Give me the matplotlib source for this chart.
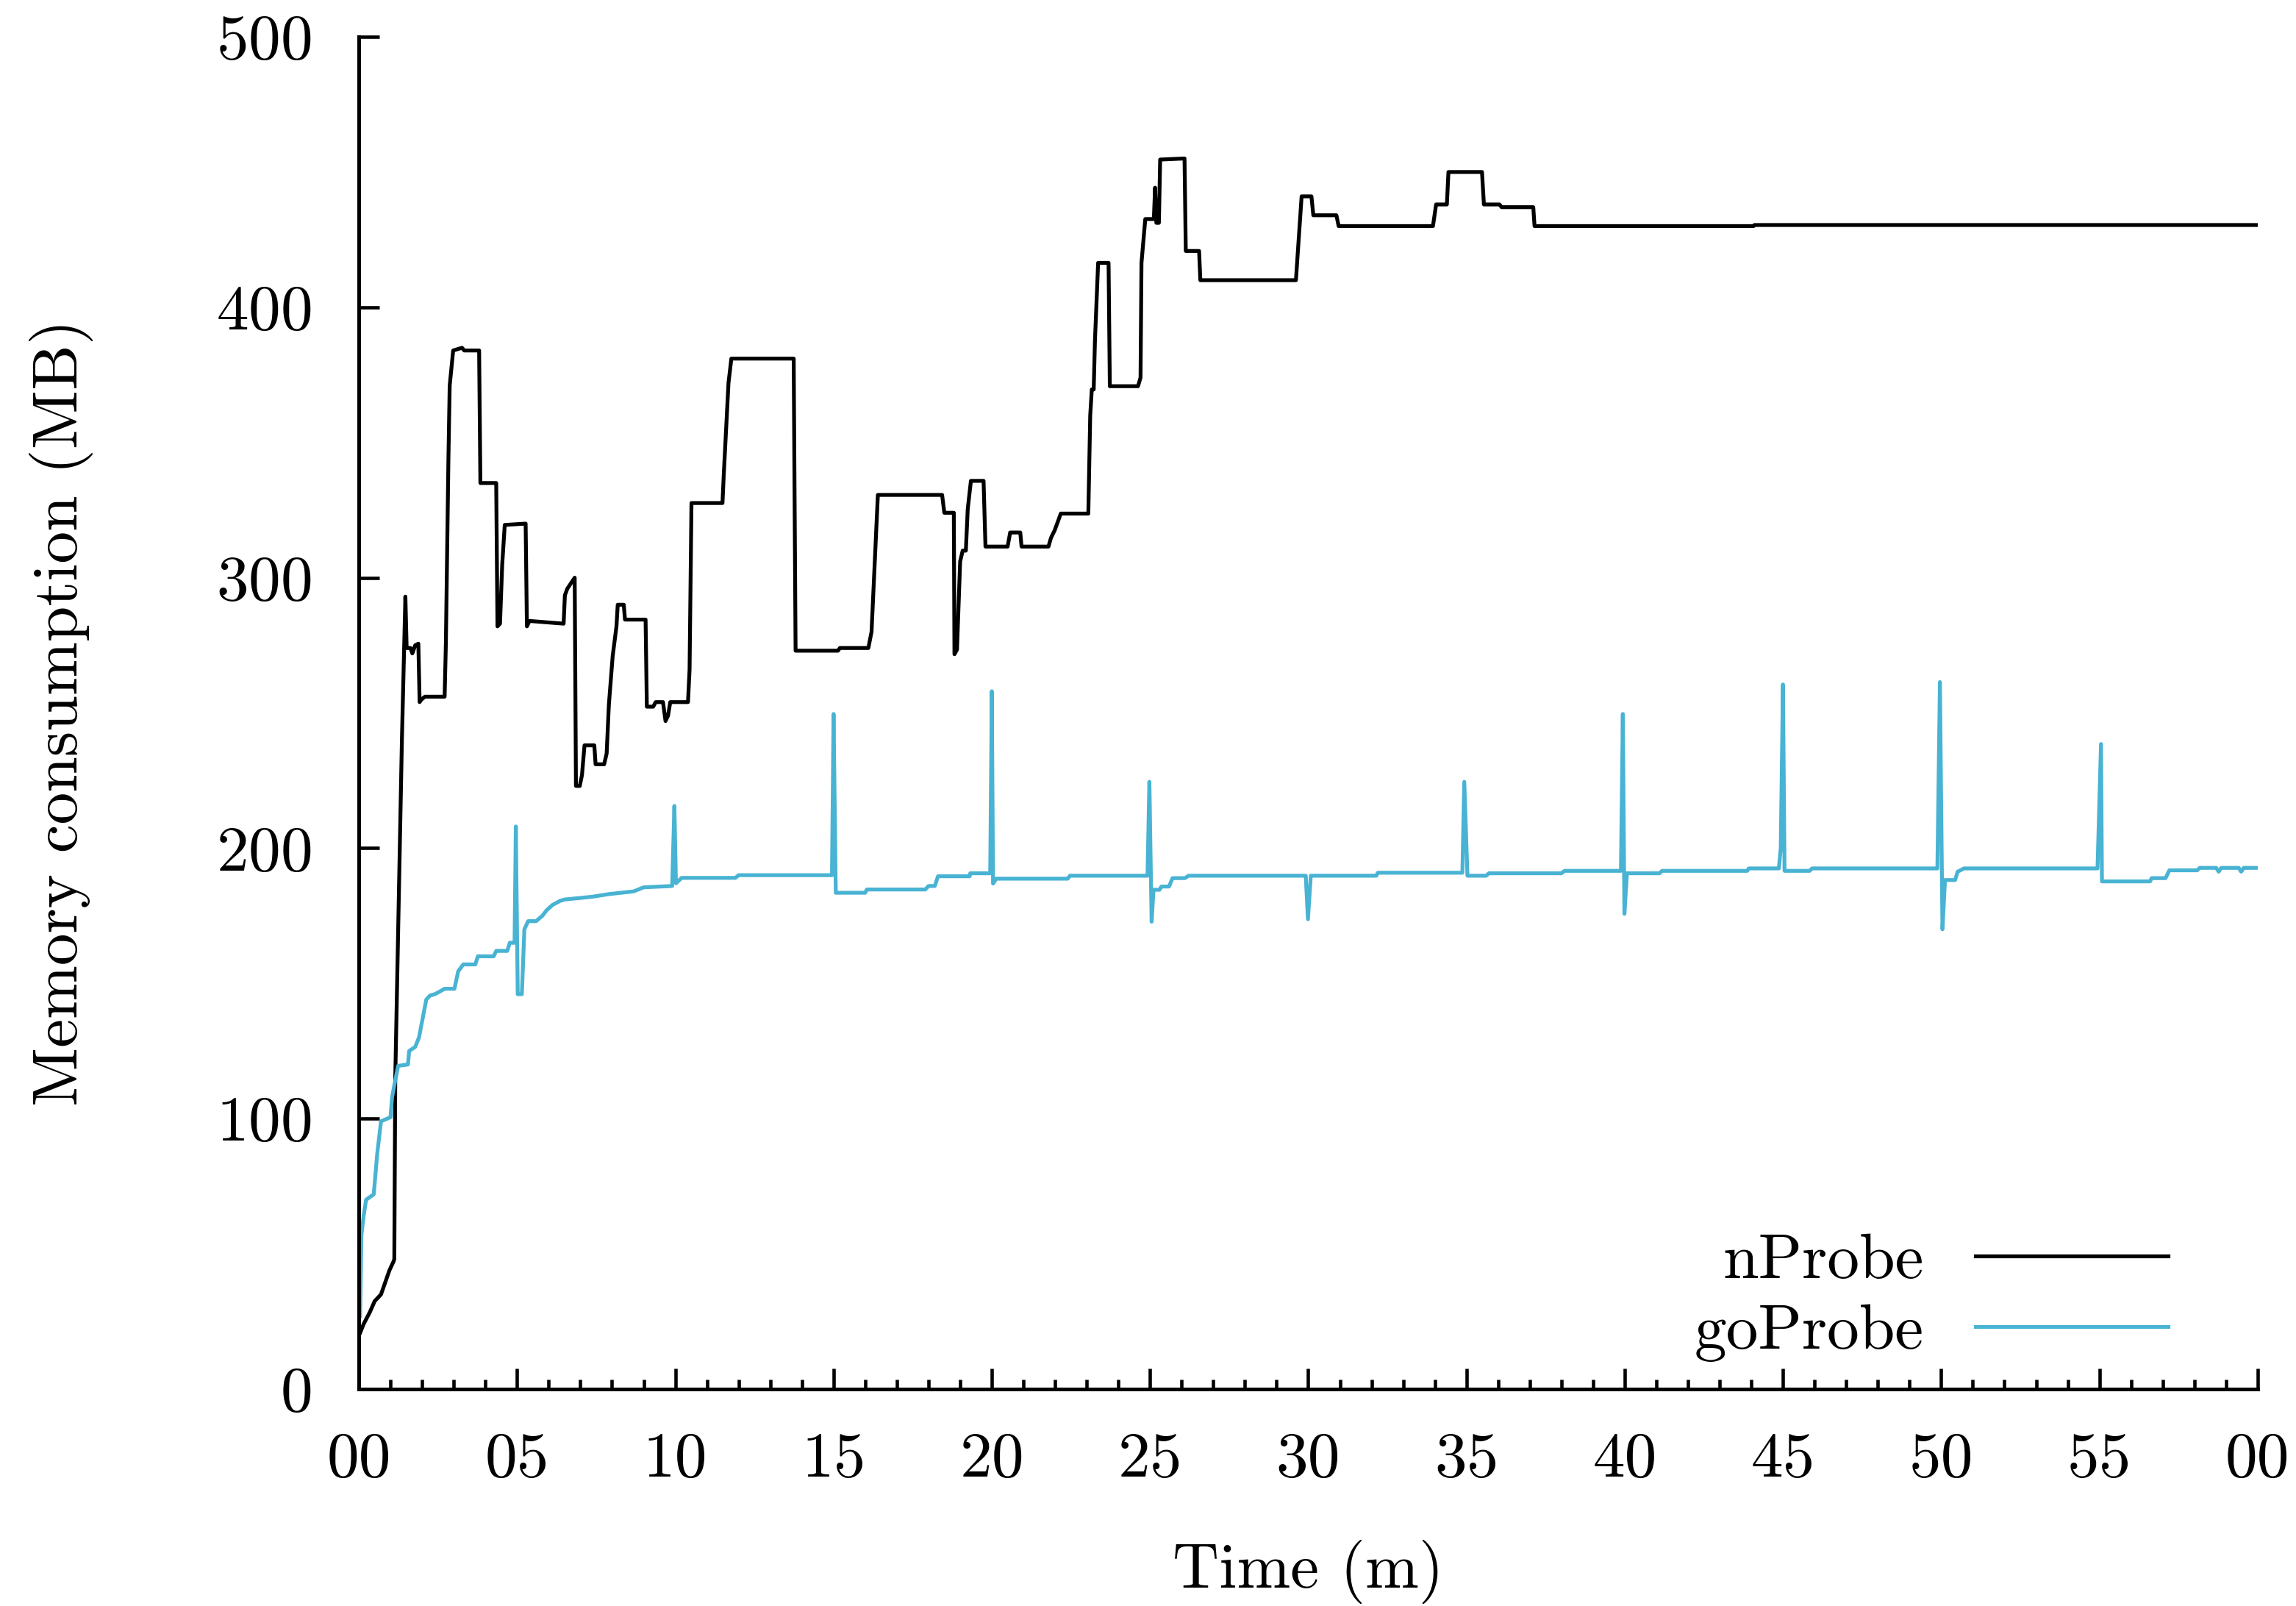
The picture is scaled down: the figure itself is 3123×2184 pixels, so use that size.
import numpy as np
import matplotlib
matplotlib.use("Agg")
import matplotlib.pyplot as plt
from matplotlib.ticker import MultipleLocator, FixedLocator, FixedFormatter

plt.rcParams['font.family'] = ['cmr10', 'DejaVu Serif']
plt.rcParams['mathtext.fontset'] = 'cm'
plt.rcParams['axes.formatter.use_mathtext'] = True

# nProbe memory (minutes, MB)
nprobe_t = [0.04, 0.15, 0.35, 0.5, 0.7, 0.85, 0.97, 1.09, 1.12, 1.15, 1.36, 1.47, 1.51, 1.63,
            1.69, 1.78, 1.88, 1.92, 1.98, 2.09, 2.71, 2.75, 2.83, 2.87, 2.98, 3.26, 3.33, 3.8,
            3.84, 4.34, 4.38, 4.46, 4.53, 4.61, 5.27, 5.31, 5.39, 6.47, 6.51, 6.59, 6.82, 6.86,
            6.98, 7.05, 7.13, 7.44, 7.48, 7.75, 7.83, 7.9, 8.02, 8.14, 8.18, 8.37, 8.41, 9.06,
            9.1, 9.3, 9.38, 9.61, 9.69, 9.77, 9.84, 10.4, 10.45, 10.51, 11.49, 11.53, 11.68,
            11.77, 13.74, 13.8, 15.14, 15.2, 16.1, 16.2, 16.4, 18.43, 18.5, 18.8, 18.82, 18.9,
            19.0, 19.08, 19.18, 19.24, 19.34, 19.74, 19.8, 20.5, 20.58, 20.9, 20.94, 21.79,
            21.87, 21.99, 22.18, 23.05, 23.11, 23.16, 23.22, 23.26, 23.36, 23.69, 23.73, 24.62,
            24.7, 24.73, 24.85, 25.12, 25.16, 25.2, 25.28, 25.32, 26.09, 26.13, 26.55, 26.59,
            29.61, 29.79, 30.1, 30.16, 30.89, 30.96, 33.94, 34.04, 34.38, 34.43, 35.49, 35.55,
            36.04, 36.11, 37.11, 37.15, 44.07, 44.1, 60.0]
nprobe_mb = [20.8, 24, 28.5, 32.5, 35, 40, 44, 47, 48, 115, 240, 293, 274, 274,
             272, 275, 275.6, 254, 255, 256, 256, 276, 344, 371, 384, 385, 384, 384,
             335, 335, 282, 283, 305, 319.5, 320, 282, 284, 283, 293.5, 296, 300, 223,
             223, 227, 238, 238, 231, 231, 235, 253, 271, 282, 290, 290, 284.5, 284.5,
             252.3, 252.3, 254, 254, 247, 249, 254, 254, 266, 327.6, 327.6, 338, 372,
             381, 381, 273, 273, 274, 274, 280, 330.6, 330.6, 324, 324, 271.7, 273.4,
             306, 310, 310, 325.4, 335.8, 335.8, 311.5, 311.5, 316.7, 316.7, 311.5, 311.5,
             314.7, 317.6, 323.7, 323.7, 360, 369.6, 369.6, 387.8, 416.4, 416.4, 370.8, 370.8,
             374, 416.4, 432.6, 432.6, 444.2, 431.2, 431.2, 454.6, 455, 420.8, 420.8, 410,
             410, 441, 441, 434, 434, 430, 430, 438, 438, 450, 450, 438,
             438, 437, 437, 430, 430, 430.4, 430.4]

# goProbe memory (minutes, MB)
goprobe_t = [0.04, 0.08, 0.15, 0.23, 0.47, 0.58, 0.7, 1.0, 1.05, 1.24, 1.55, 1.59, 1.78, 1.9,
             2.13, 2.25, 2.4, 2.56, 2.71, 3.02, 3.14, 3.3, 3.68, 3.76, 4.26, 4.34, 4.69, 4.77,
             4.92, 4.96, 5.02, 5.15, 5.23, 5.35, 5.6, 5.8, 5.93, 6.12, 6.36, 6.5, 7.36, 7.9,
             8.68, 9.0, 9.9, 9.97, 10.02, 10.2, 11.9, 12.0, 14.95, 15.0, 15.07, 16.0, 16.05,
             17.9, 18.0, 18.2, 18.3, 19.3, 19.32, 19.95, 20.0, 20.04, 20.14, 22.4, 22.47,
             24.92, 24.98, 25.05, 25.11, 25.3, 25.36, 25.6, 25.71, 26.1, 26.22, 29.92, 29.99,
             30.08, 32.15, 32.2, 34.87, 34.93, 35.03, 35.62, 35.71, 38.0, 38.1, 39.88, 39.94,
             39.99, 40.07, 41.1, 41.18, 43.87, 43.92, 44.87, 44.93, 45.0, 45.05, 45.84, 45.92,
             49.88, 49.96, 50.04, 50.12, 50.44, 50.52, 50.64, 50.72, 54.94, 55.05, 55.08, 56.6,
             56.65, 57.09, 57.21, 58.09, 58.17, 58.69, 58.77, 58.85, 59.4, 59.48, 59.56, 60.0]
goprobe_mb = [27, 57, 64, 70, 72, 87, 99, 100.5, 108, 119.5, 120, 125, 126.5, 130,
              144, 145.5, 146, 147, 148, 148, 154.5, 157, 157, 160, 160, 162, 162, 165,
              165, 208, 146, 146, 170, 173, 173, 175, 177, 179, 180.5, 181, 182, 183,
              184, 185.5, 186, 215.6, 187, 189, 189, 190, 190, 249.6, 183.5, 183.5, 184.7,
              184.7, 186, 186, 189.6, 189.6, 190.7, 190.7, 258, 186.9, 188.7, 188.7, 189.8,
              189.8, 224.5, 172.8, 184.6, 184.6, 185.8, 185.8, 188.9, 188.9, 189.8, 189.8, 173.7,
              189.8, 189.8, 190.9, 190.9, 224.5, 189.8, 189.8, 190.7, 190.7, 191.6, 191.6, 249.6,
              175.7, 190.7, 190.7, 191.6, 191.6, 192.5, 192.5, 200, 260.5, 191.6, 191.6, 192.5,
              192.5, 261.4, 170, 188.2, 188.2, 191.3, 192, 192.5, 192.5, 238.5, 187.7, 187.7,
              188.9, 188.9, 191.8, 191.8, 192.7, 192.7, 191.3, 192.7, 192.7, 191.3, 192.7, 192.7]

xtick_pos = list(range(0, 61, 5))
xtick_labels = ['00', '05', '10', '15', '20', '25', '30', '35', '40', '45', '50', '55', '00']

fig = plt.figure(figsize=(10.41, 7.28), dpi=300)
ax = fig.add_axes([0.1563, 0.1351, 0.9833 - 0.1563, 0.9771 - 0.1351])

ax.plot(nprobe_t, nprobe_mb, color='black', lw=1.25, label='nProbe')
ax.plot(goprobe_t, goprobe_mb, color='#48b3d3', lw=1.25, label='goProbe')

ax.set_xlim(0, 60)
ax.set_ylim(0, 500)
ax.spines['top'].set_visible(False)
ax.spines['right'].set_visible(False)
ax.spines['left'].set_linewidth(1.2)
ax.spines['bottom'].set_linewidth(1.2)

ax.xaxis.set_major_locator(FixedLocator(xtick_pos))
ax.xaxis.set_major_formatter(FixedFormatter(xtick_labels))
ax.xaxis.set_minor_locator(MultipleLocator(1))
ax.yaxis.set_major_locator(MultipleLocator(100))

ax.tick_params(axis='both', which='both', direction='in', width=1.1, labelsize=21)
ax.tick_params(axis='both', which='major', length=6.7)
ax.tick_params(axis='x', which='minor', length=3.2)
ax.tick_params(axis='x', which='major', pad=14)
ax.tick_params(axis='y', which='major', pad=15.5)

ax.set_xlabel('Time (m)', fontsize=21, labelpad=16.5)
ax.set_ylabel('Memory consumption (MB)', fontsize=21, labelpad=40)

ax.legend(loc='lower right', bbox_to_anchor=(0.953, 0.02), frameon=False,
          markerfirst=False, handlelength=3.0, handletextpad=0.8,
          labelspacing=0.2, borderpad=0, borderaxespad=0, fontsize=21)

fig.savefig('out.png', dpi=300)
